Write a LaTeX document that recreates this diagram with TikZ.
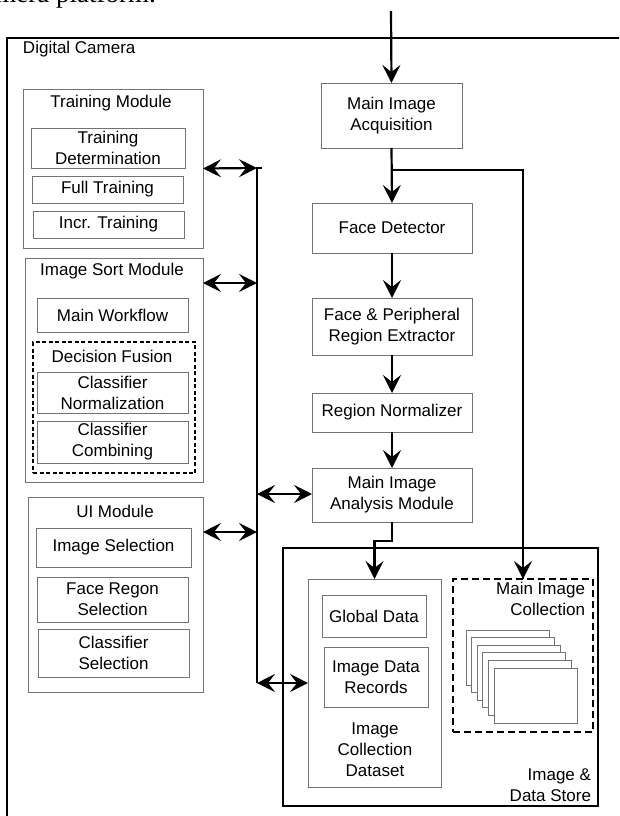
\documentclass[tikz,border=0pt]{standalone}
\usepackage{fontspec}
\setmainfont{Liberation Sans}
\newfontfamily\pageserif{Liberation Serif}
\usetikzlibrary{arrows.meta}
\newcommand\mybox[7]{\node[#6, minimum width={(#4-#2)*1pt}, minimum height={(#5-#3)*1pt}] (#1) at ({(#2+#4)/2},{(#3+#5)/2}) {#7};}
\tikzset{
  fs/.style={font=\fontsize{17}{21}\selectfont},
  gbox/.style={draw=black!55, line width=1pt, inner sep=0pt, outer sep=0pt, align=center, fs},
  bbox/.style={draw=black, line width=2pt, inner sep=0pt, outer sep=0pt},
  dbox/.style={draw=black, line width=2.6pt, dash pattern=on 7pt off 4pt, inner sep=0pt, outer sep=0pt},
  dboxs/.style={draw=black, line width=2.2pt, dash pattern=on 4pt off 2.5pt, inner sep=0pt, outer sep=0pt},
  lbl/.style={inner sep=0pt, outer sep=0pt, align=center, fs},
  tip/.tip={Stealth[length=18pt,width=18pt,inset=7pt]},
  arr/.style={-tip, line width=2.2pt},
  dbl/.style={tip-tip, line width=2.2pt},
  busline/.style={line width=1.5pt},
  frameline/.style={line width=2pt},
}
\begin{document}
\begin{tikzpicture}[x=1pt,y=-1pt]
\useasboundingbox (0,0) rectangle (619,816);
\begin{scope}
\clip (0,0) rectangle (619,816);
\node[anchor=base east, inner sep=0pt, font=\pageserif\fontsize{27}{32}\selectfont] (pagetext) at (156,3) {camera platform.};
\draw[frameline] (630,38) -- (7,38) -- (7,830);
\end{scope}
\node[lbl, anchor=west] (dc) at (23,49) {Digital Camera};

% Training module
\mybox{tm}{23}{89}{203}{248}{gbox}{}
\node[lbl] (tmt) at (111,103) {Training Module};
\mybox{td}{31}{128}{185}{168}{gbox}{Training\\Determination}
\mybox{ft}{32}{176}{183}{203}{gbox}{Full Training}
\mybox{it}{33}{211}{184}{238}{gbox}{Incr. Training}

% Image sort module
\mybox{ism}{25}{258}{203}{482}{gbox}{}
\node[lbl] (ismt) at (112,271) {Image Sort Module};
\mybox{mw}{37}{298}{188}{332}{gbox}{Main Workflow}
\mybox{dfu}{33}{342}{195}{473}{dboxs}{}
\node[lbl] (dft) at (112,356) {Decision Fusion};
\mybox{cn}{37}{372}{188}{413}{gbox}{Classifier\\Normalization}
\mybox{cc}{37}{421}{188}{463}{gbox}{Classifier\\Combining}

% UI module
\mybox{ui}{28}{497}{203}{692}{gbox}{}
\node[lbl] (uit) at (115,511) {UI Module};
\mybox{is}{36}{528}{191}{567}{gbox}{Image Selection}
\mybox{frs}{37}{577}{188}{622}{gbox}{Face Regon\\Selection}
\mybox{cs}{38}{629}{189}{677}{gbox}{Classifier\\Selection}

% Main column
\mybox{mia}{321}{83}{462}{148}{gbox}{Main Image\\Acquisition}
\mybox{fd}{312}{203}{472}{253}{gbox}{Face Detector}
\mybox{fpre}{312}{298}{472}{355}{gbox}{Face \& Peripheral\\Region Extractor}
\mybox{rn}{312}{393}{472}{432}{gbox}{Region Normalizer}
\mybox{miam}{312}{468}{472}{522}{gbox}{Main Image\\Analysis Module}

% Image & data store
\mybox{ids}{283}{548}{598}{806}{bbox}{}
\node[lbl, align=right, anchor=south east] (idst) at (591,802) {Image \&\\Data Store};
\mybox{ds}{308}{579}{441}{787}{gbox}{}
\mybox{gd}{322}{595}{426}{637}{gbox}{Global Data}
\mybox{idr}{324}{647}{428}{707}{gbox}{Image Data\\Records}
\node[lbl] (dst) at (375,750) {Image\\Collection\\Dataset};
\mybox{mic}{453}{579}{593}{732}{dbox}{}
\node[lbl, align=right, anchor=north east] (mict) at (585,582) {Main Image\\Collection};
\foreach \i in {0,...,5}
  \draw[draw=black!55, line width=1pt, fill=white] ({466+5.6*\i},{630+7.6*\i}) rectangle ++(83,55);

% Flow connectors
\coordinate (inp) at (391,11);
\draw[arr] (inp) -- (mia.north);
\draw[arr] (mia.south) -- (fd.north);
\coordinate (br) at (392,170);
\draw[line width=2.2pt] (br) -| (mic.north);
\draw[arr] (mic.north |- br) -- (mic.north);
\draw[arr] (fd.south) -- (fpre.north);
\draw[arr] (fpre.south) -- (rn.north);
\draw[arr] (rn.south) -- (miam.north);
\draw[arr] (miam.south) -- ++(0,19) -| (ds.north);

% Bus
\coordinate (bstub) at (262,168);
\coordinate (b1) at (257,168);
\coordinate (b2) at (257,283);
\coordinate (b3) at (257,494);
\coordinate (b4) at (257,532);
\coordinate (b5) at (257,683);
\draw[busline] (bstub) -- (b1) -- (b5);
\draw[dbl] (tm.east) -- (b1);
\draw[dbl] (ism.east |- b2) -- (b2);
\draw[dbl] (b3) -- (miam.west |- b3);
\draw[dbl] (ui.east |- b4) -- (b4);
\draw[dbl] (b5) -- (ds.west |- b5);
\end{tikzpicture}
\end{document}
